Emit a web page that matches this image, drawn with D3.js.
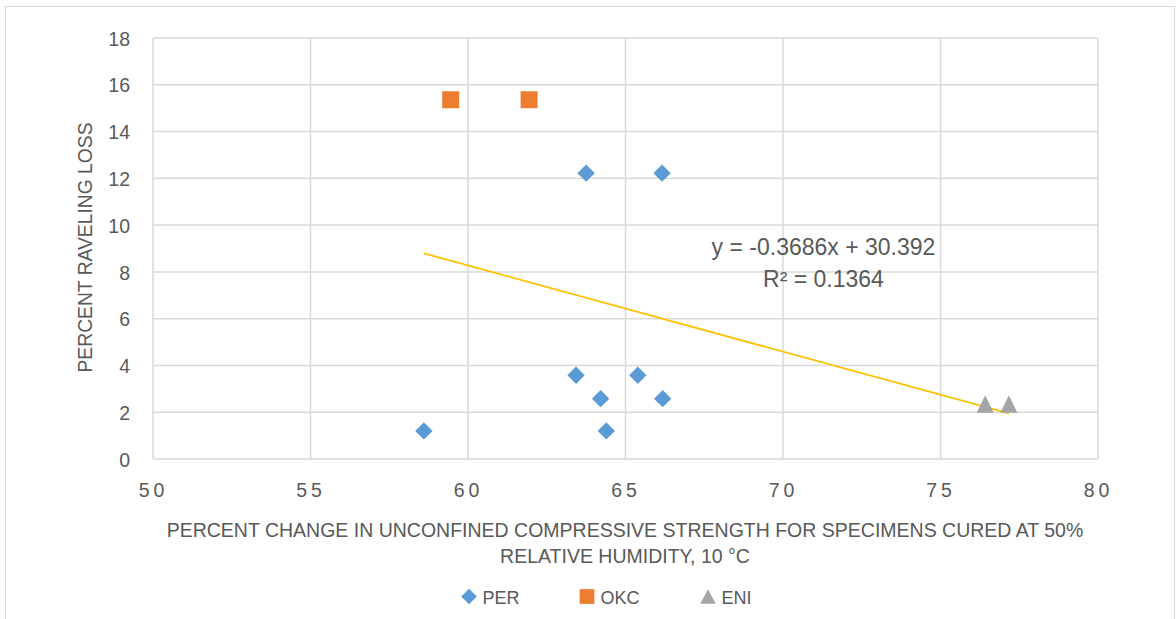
<!DOCTYPE html>
<html><head><meta charset="utf-8">
<script src="https://cdn.jsdelivr.net/npm/d3@7"></script>
<style>
html,body{margin:0;padding:0;background:#fff;}
svg{display:block;font-family:"Liberation Sans",Arial,sans-serif;}
</style></head>
<body>
<svg id="c" width="1176" height="619"></svg>
<script>
const perX = [63.75, 66.16, 63.43, 65.39, 64.21, 66.18, 58.6, 64.39];
const perY = [12.22, 12.22, 3.58, 3.58, 2.58, 2.58, 1.2, 1.2];
const okcX = [59.45, 61.94];
const okcY = [15.36, 15.36];
const eniX = [76.42, 77.17];
const eniY = [2.35, 2.35];
const xTicks = [50, 55, 60, 65, 70, 75, 80];
const yTicks = [0, 2, 4, 6, 8, 10, 12, 14, 16, 18];
const trendSlope = -0.3686, trendIntercept = 30.392;
const eqLabel = "y = -0.3686x + 30.392";
const r2Label = "R² = 0.1364";
const seriesNames = ["PER", "OKC", "ENI"];
const seriesColors = ["#5B9BD5", "#ED7D31", "#A5A5A5"];
const xTitle = ["PERCENT CHANGE IN UNCONFINED COMPRESSIVE STRENGTH FOR SPECIMENS CURED AT 50%", "RELATIVE HUMIDITY, 10 °C"];
const yTitle = "PERCENT RAVELING LOSS";

const svg = d3.select("#c");
const L = 153, R = 1098, T = 38, B = 459;
const x = d3.scaleLinear().domain([50, 80]).range([L, R]);
const y = d3.scaleLinear().domain([0, 18]).range([B, T]);
const txt = "#595959", grid = "#D9D9D9";
const FF = "Liberation Sans, Arial, sans-serif";

// chart border
svg.append("rect").attr("x", 5.5).attr("y", 6.5).attr("width", 1169).attr("height", 640)
  .attr("fill", "#fff").attr("stroke", "#D9D9D9").attr("stroke-width", 1);

// gridlines
svg.append("g").selectAll("line").data(yTicks).join("line")
  .attr("x1", L).attr("x2", R).attr("y1", d => y(d)).attr("y2", d => y(d))
  .attr("stroke", grid).attr("stroke-width", 1.5);
svg.append("g").selectAll("line").data(xTicks).join("line")
  .attr("y1", T).attr("y2", B).attr("x1", d => x(d)).attr("x2", d => x(d))
  .attr("stroke", grid).attr("stroke-width", 1.5);

// axes labels
const yAxis = svg.append("g").attr("transform", `translate(${L},0)`)
  .call(d3.axisLeft(y).tickValues(yTicks).tickSize(0).tickPadding(23));
yAxis.select(".domain").remove();
yAxis.selectAll("text").attr("fill", txt).attr("font-size", 19.5)
  .attr("dy", "0.37em").attr("font-family", FF);

const xAxis = svg.append("g").attr("transform", `translate(0,${B})`)
  .call(d3.axisBottom(x).tickValues(xTicks).tickSize(0).tickPadding(0));
xAxis.select(".domain").remove();
xAxis.selectAll("text").attr("fill", txt).attr("font-size", 19.5)
  .attr("y", 38).attr("dy", 0)
  .attr("letter-spacing", "4px").attr("dx", "0px")
  .attr("font-family", FF);

// axis titles
svg.append("g").selectAll("text").data(xTitle).join("text")
  .attr("x", 625).attr("y", (d, i) => 537 + i * 26)
  .attr("text-anchor", "middle").attr("fill", txt).attr("font-size", 19.5).text(d => d);
svg.append("text").attr("transform", "translate(92,247.5) rotate(-90)")
  .attr("text-anchor", "middle").attr("fill", txt).attr("font-size", 19.3).text(yTitle);

// trendline
const allX = perX.concat(okcX, eniX);
const tx = d3.extent(allX);
svg.append("line")
  .attr("x1", x(tx[0])).attr("y1", y(trendSlope * tx[0] + trendIntercept))
  .attr("x2", x(tx[1])).attr("y2", y(trendSlope * tx[1] + trendIntercept))
  .attr("stroke", "#FFC000").attr("stroke-width", 1.8);

// markers
const diamond = d3.symbol().type(d3.symbolSquare).size(150);
const square = d3.symbol().type(d3.symbolSquare).size(289);
const triPath = (w, h) => `M0,${-h / 2}L${w / 2},${h / 2}L${-w / 2},${h / 2}Z`;

svg.append("g").selectAll("path").data(d3.zip(perX, perY)).join("path")
  .attr("d", diamond).attr("fill", seriesColors[0])
  .attr("transform", d => `translate(${x(d[0])},${y(d[1])}) rotate(45)`);
svg.append("g").selectAll("path").data(d3.zip(okcX, okcY)).join("path")
  .attr("d", square).attr("fill", seriesColors[1])
  .attr("transform", d => `translate(${x(d[0])},${y(d[1])})`);
svg.append("g").selectAll("path").data(d3.zip(eniX, eniY)).join("path")
  .attr("d", triPath(17, 17.5)).attr("fill", seriesColors[2])
  .attr("transform", d => `translate(${x(d[0])},${y(d[1])})`);

// equation
svg.append("text").attr("x", 823.5).attr("y", 255).attr("text-anchor", "middle")
  .attr("fill", txt).attr("font-size", 23).text(eqLabel);
svg.append("text").attr("x", 823.5).attr("y", 287).attr("text-anchor", "middle")
  .attr("fill", txt).attr("font-size", 23).text(r2Label);

// legend
const legX = [469, 587, 708];
const lg = svg.append("g");
const legSyms = [d3.symbol().type(d3.symbolSquare).size(122)(), d3.symbol().type(d3.symbolSquare).size(216)(), triPath(15.5, 14.5)];
seriesNames.forEach((n, i) => {
  lg.append("path").attr("d", legSyms[i]).attr("fill", seriesColors[i])
    .attr("transform", `translate(${legX[i]},${596.5}) ${i === 0 ? "rotate(45)" : ""}`);
  lg.append("text").attr("x", legX[i] + 13.5).attr("y", 603.5).attr("fill", txt)
    .attr("font-size", 18).text(n);
});
</script>
</body></html>
